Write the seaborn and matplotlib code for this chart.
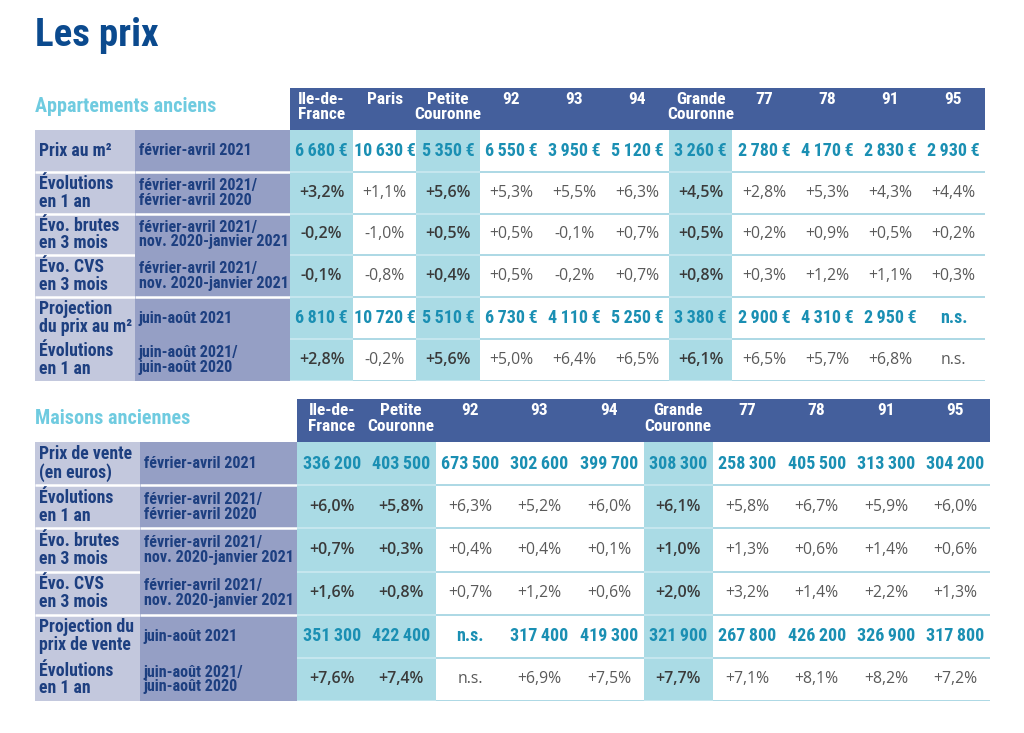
import os
import numpy as np
import matplotlib
matplotlib.use("Agg")
import matplotlib.pyplot as plt
from matplotlib.colors import ListedColormap
from matplotlib import font_manager
from matplotlib.font_manager import FontProperties
import seaborn as sns

# ---------------- data ----------------
apt_columns = ["Ile-de-\nFrance", "Paris", "Petite\nCouronne", "92", "93", "94",
               "Grande\nCouronne", "77", "78", "91", "95"]
apt_highlight = [0, 2, 6]
apt_prix_m2 = [6680, 10630, 5350, 6550, 3950, 5120, 3260, 2780, 4170, 2830, 2930]
apt_evol_1an = [3.2, 1.1, 5.6, 5.3, 5.5, 6.3, 4.5, 2.8, 5.3, 4.3, 4.4]
apt_evo_brutes = [-0.2, -1.0, 0.5, 0.5, -0.1, 0.7, 0.5, 0.2, 0.9, 0.5, 0.2]
apt_evo_cvs = [-0.1, -0.8, 0.4, 0.5, -0.2, 0.7, 0.8, 0.3, 1.2, 1.1, 0.3]
apt_projection = [6810, 10720, 5510, 6730, 4110, 5250, 3380, 2900, 4310, 2950, None]
apt_evol_proj = [2.8, -0.2, 5.6, 5.0, 6.4, 6.5, 6.1, 6.5, 5.7, 6.8, None]
apt_labels = ["Prix au m²", "Évolutions\nen 1 an", "Évo. brutes\nen 3 mois",
              "Évo. CVS\nen 3 mois", "Projection\ndu prix au m²", "Évolutions\nen 1 an"]
apt_periods = ["février-avril 2021", "février-avril 2021/\nfévrier-avril 2020",
               "février-avril 2021/\nnov. 2020-janvier 2021",
               "février-avril 2021/\nnov. 2020-janvier 2021",
               "juin-août 2021", "juin-août 2021/\njuin-août 2020"]

mai_columns = ["Ile-de-\nFrance", "Petite\nCouronne", "92", "93", "94",
               "Grande\nCouronne", "77", "78", "91", "95"]
mai_highlight = [0, 1, 5]
mai_prix = [336200, 403500, 673500, 302600, 399700, 308300, 258300, 405500, 313300, 304200]
mai_evol_1an = [6.0, 5.8, 6.3, 5.2, 6.0, 6.1, 5.8, 6.7, 5.9, 6.0]
mai_evo_brutes = [0.7, 0.3, 0.4, 0.4, 0.1, 1.0, 1.3, 0.6, 1.4, 0.6]
mai_evo_cvs = [1.6, 0.8, 0.7, 1.2, 0.6, 2.0, 3.2, 1.4, 2.2, 1.3]
mai_projection = [351300, 422400, None, 317400, 419300, 321900, 267800, 426200, 326900, 317800]
mai_evol_proj = [7.6, 7.4, None, 6.9, 7.5, 7.7, 7.1, 8.1, 8.2, 7.2]
mai_labels = ["Prix de vente\n(en euros)", "Évolutions\nen 1 an", "Évo. brutes\nen 3 mois",
              "Évo. CVS\nen 3 mois", "Projection du\nprix de vente", "Évolutions\nen 1 an"]
mai_periods = apt_periods

# ---------------- fonts ----------------
sns.set_theme(style="white")


def wnum(w):
    if isinstance(w, (int, float)):
        return w
    return font_manager.weight_dict.get(str(w).lower(), 400)


def find_condensed_bold():
    best = None
    prefs = ["liberation sans narrow", "roboto condensed", "open sans condensed",
             "noto sans", "dejavu sans", "open sans", "lato", "roboto", "inter"]
    for f in font_manager.fontManager.ttflist:
        fn = os.path.basename(f.fname).lower()
        cond = ("narrow" in fn or "condensed" in fn or "narrow" in f.name.lower()
                or "condensed" in f.name.lower()
                or f.stretch in ("condensed", "semi-condensed", "extra-condensed"))
        if not cond or f.style != "normal" or "italic" in fn or "oblique" in fn:
            continue
        w = wnum(f.weight)
        if w < 600:
            continue
        if "semicondensed" in fn or "semi" in str(f.stretch):
            cscore = 1
        elif "extracondensed" in fn or "extra" in str(f.stretch):
            cscore = 2
        else:
            cscore = 0
        fam = f.name.lower()
        pr = prefs.index(fam) if fam in prefs else 99
        score = (pr, cscore, abs(w - 700))
        if best is None or score < best[0]:
            best = (score, f.fname)
    return best[1] if best else None


cond_path = find_condensed_bold()
if cond_path:
    FB = FontProperties(fname=cond_path)
    K = 1.0
else:
    FB = FontProperties(family="Roboto", weight="bold")
    K = 0.9

REG = FontProperties(family="Open Sans", weight="normal")
SEMI = FontProperties(family="Open Sans", weight="semibold")


def fp(base, size):
    p = base.copy()
    p.set_size(size)
    return p


HEADER = "#445f9c"
LAB1 = "#c3c8dd"
LAB2 = "#959fc5"
HILITE = "#aadbe5"
TEAL = "#1a8fb3"
NAVY = "#1d3f80"
GRAY = "#5a5a5a"
DARK = "#3a3a3a"
SEP = "#a6d5e3"

W, H = 1024, 733
fig = plt.figure(figsize=(W / 100, H / 100), dpi=100)
fig.patch.set_facecolor("white")


def add_ax(x, y, w, h):
    return fig.add_axes([x / W, 1 - (y + h) / H, w / W, h / H])


def fmt_price(v, euro):
    if v is None:
        return "n.s."
    s = f"{v:,}".replace(",", "\u2009")
    return s + ("\u2009€" if euro else "")


def fmt_pct(v):
    if v is None:
        return "n.s."
    return f"{v:+.1f}%".replace(".", ",")


def draw_table(x0, y0, x_data, x_end, y_end, columns, highlight, rows, kinds,
               labels, periods, lab_split, title, label_lines1, label_lines2):
    ncol = len(columns)
    nrow = len(rows)
    row_h = (y_end - y0) / (nrow + 1)
    codes = np.zeros((nrow + 1, ncol))
    codes[0, :] = 2
    for j in highlight:
        codes[1:, j] = 1
    ax = add_ax(x_data, y0, x_end - x_data, y_end - y0)
    sns.heatmap(codes, ax=ax, cmap=ListedColormap(["white", HILITE, HEADER]),
                vmin=-0.5, vmax=2.5, cbar=False, xticklabels=False,
                yticklabels=False, linewidths=0)
    ax.set_axis_off()
    for j, c in enumerate(columns):
        ax.text(j + 0.5, 0.1, c, ha="center", va="top", color="white",
                fontproperties=fp(FB, 12.5 * K), linespacing=1.02)
    for i in range(2, nrow + 2):
        for j in range(ncol):
            col = "#c9e8ef" if j in highlight else SEP
            ax.hlines(i, j, j + 1, color=col, lw=1.3)
    for i, (vals, kind) in enumerate(zip(rows, kinds)):
        for j, v in enumerate(vals):
            hl = j in highlight
            if kind in ("eur", "num"):
                s = fmt_price(v, kind == "eur")
                ax.text(j + 0.5, i + 1.5, s, ha="center", va="center",
                        color=TEAL, fontproperties=fp(FB, 13 * K))
            else:
                s = fmt_pct(v)
                if hl:
                    ax.text(j + 0.5, i + 1.5, s, ha="center", va="center",
                            color=DARK, fontproperties=fp(SEMI, 11.5))
                else:
                    ax.text(j + 0.5, i + 1.5, s, ha="center", va="center",
                            color=GRAY, fontproperties=fp(REG, 11.3))
    ly = y0 + row_h
    lh = y_end - ly
    for (lx, lw, color, texts, lines) in ((x0, lab_split - x0, LAB1, labels, label_lines1),
                                          (lab_split, x_data - lab_split, LAB2, periods, label_lines2)):
        la = add_ax(lx, ly, lw, lh)
        sns.heatmap(np.zeros((nrow, 1)), ax=la, cmap=ListedColormap([color]),
                    cbar=False, xticklabels=False, yticklabels=False)
        la.set_axis_off()
        for i in lines:
            la.hlines(i, 0, 1, color="white", lw=1.8)
        fs = 12.8 if color == LAB1 else 11.6
        for i, t in enumerate(texts):
            la.text(0.04 if color == LAB1 else 0.025, i + 0.5, t, ha="left",
                    va="center", color=NAVY, fontproperties=fp(FB, fs * K),
                    linespacing=0.98)
    fig.text(x0 / W, 1 - (y0 + row_h * 0.45) / H, title, ha="left",
             va="center", color="#6fcbe0", fontproperties=fp(FB, 14.5 * K))


fig.text(35 / W, 1 - 35 / H, "Les prix", ha="left", va="center",
         color="#0b4a8e", fontproperties=fp(FB, 28 * K))

draw_table(35, 88, 290, 985, 381, apt_columns, apt_highlight,
           [apt_prix_m2, apt_evol_1an, apt_evo_brutes, apt_evo_cvs,
            apt_projection, apt_evol_proj],
           ["eur", "pct", "pct", "pct", "eur", "pct"],
           apt_labels, apt_periods, 135, "Appartements anciens",
           [1, 2, 3, 4], [1, 2, 4])

draw_table(35, 399, 297, 990, 701, mai_columns, mai_highlight,
           [mai_prix, mai_evol_1an, mai_evo_brutes, mai_evo_cvs,
            mai_projection, mai_evol_proj],
           ["num", "pct", "pct", "pct", "num", "pct"],
           mai_labels, mai_periods, 140, "Maisons anciennes",
           [1, 2, 3, 4], [1, 2, 4])

fig.savefig("out.png", dpi=100, facecolor="white")
